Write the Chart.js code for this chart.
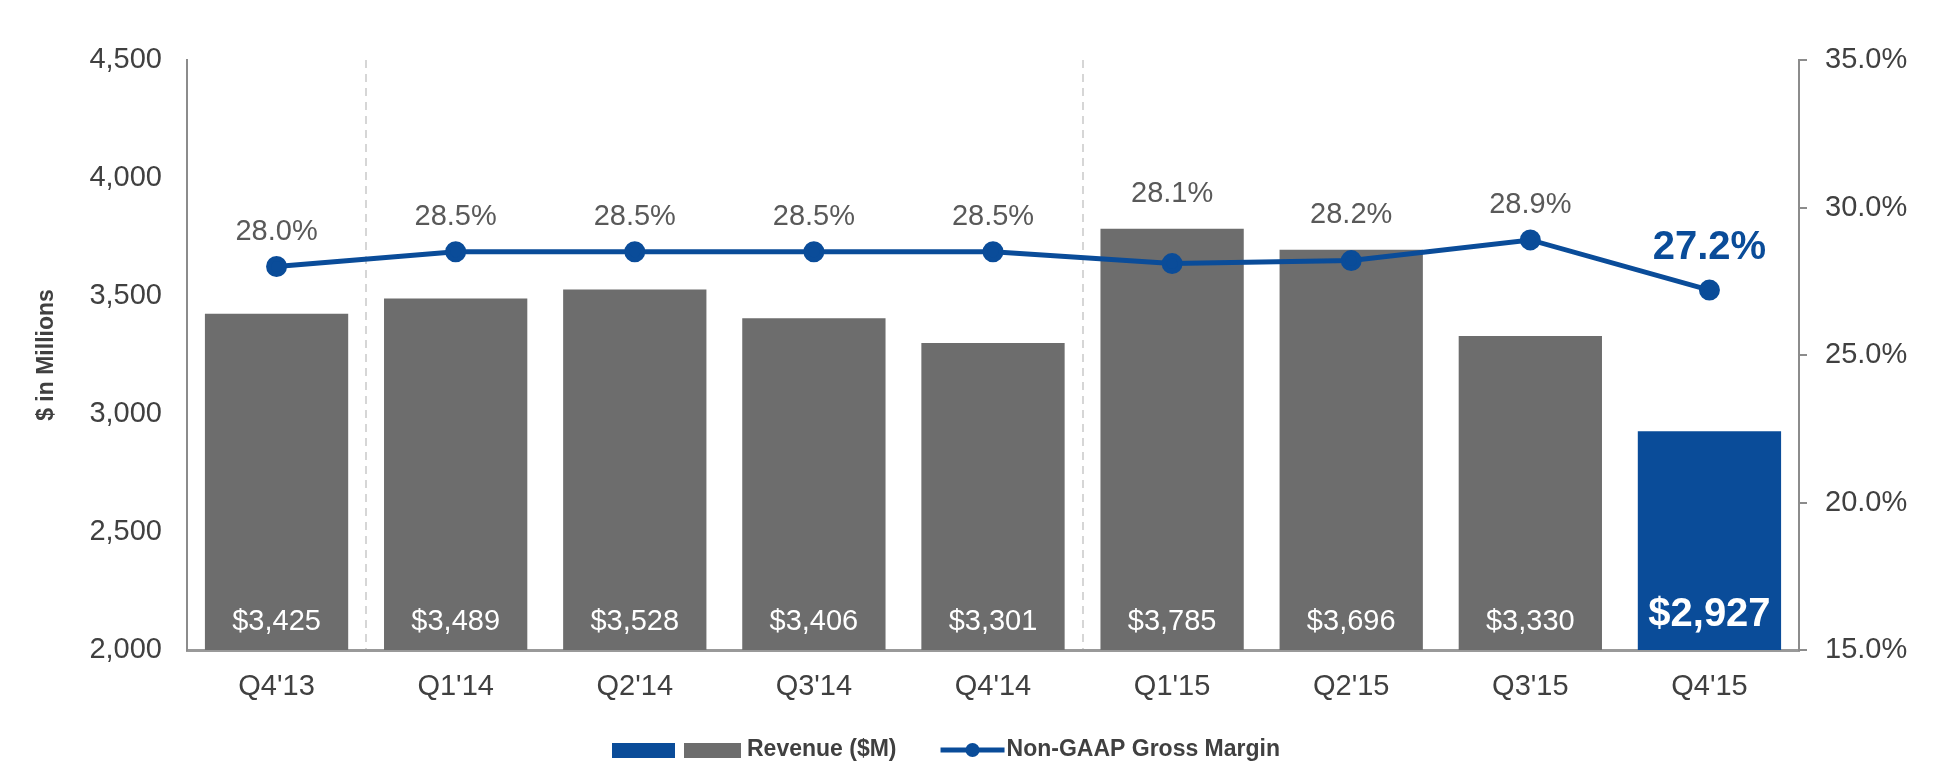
<!DOCTYPE html>
<html>
<head>
<meta charset="utf-8">
<script src="https://cdn.jsdelivr.net/npm/chart.js@4.4.1/dist/chart.umd.min.js"></script>
<style>
  html, body { margin: 0; padding: 0; background: #fff; }
  #wrap { width: 1934px; height: 774px; position: relative; }
</style>
</head>
<body>
<div id="wrap"><canvas id="revenueChart"></canvas></div>
<script>
// datos
const quarters = ["Q4'13", "Q1'14", "Q2'14", "Q3'14", "Q4'14", "Q1'15", "Q2'15", "Q3'15", "Q4'15"];
const revenue = [3425, 3489, 3528, 3406, 3301, 3785, 3696, 3330, 2927];
const grossMargin = [28.0, 28.5, 28.5, 28.5, 28.5, 28.1, 28.2, 28.9, 27.2];
const revenueTicks = [2000, 2500, 3000, 3500, 4000, 4500];
const marginTicks = [15, 20, 25, 30, 35];
const yearBreaks = [1, 5]; // dashed separators before Q1'14 and Q1'15

const FONT = '"Liberation Sans", Arial, Helvetica, sans-serif';
const GRAY = '#6d6d6d';
const BLUE = '#0a4c99';
const TEXT = '#404040';
const last = revenue.length - 1;

// value labels on bars and line points
const valueLabels = {
  id: 'valueLabels',
  afterDatasetsDraw(chart) {
    const ctx = chart.ctx;
    const bars = chart.getDatasetMeta(1).data;
    const points = chart.getDatasetMeta(0).data;
    const bottom = chart.chartArea.bottom;
    ctx.save();
    ctx.textAlign = 'center';
    ctx.textBaseline = 'middle';
    bars.forEach((bar, i) => {
      ctx.fillStyle = '#ffffff';
      ctx.font = i === last ? 'bold 40px ' + FONT : '29px ' + FONT;
      ctx.fillText('$' + revenue[i].toLocaleString('en-US'), bar.x, bottom - (i === last ? 35 : 28));
    });
    points.forEach((pt, i) => {
      // keep the label clear of the bar top when the bar is taller than the point
      const top = Math.min(pt.y, bars[i].y);
      ctx.fillStyle = i === last ? BLUE : '#595959';
      ctx.font = i === last ? 'bold 40px ' + FONT : '29px ' + FONT;
      ctx.fillText(grossMargin[i].toFixed(1) + '%', pt.x, top - (i === last ? 42 : 35));
    });
    ctx.restore();
  }
};

// legend like the original (two boxes for revenue, line with dot)
const customLegend = {
  id: 'customLegend',
  afterDraw(chart) {
    const ctx = chart.ctx;
    const y = 750;
    ctx.save();
    ctx.font = 'bold 23px ' + FONT;
    ctx.textBaseline = 'middle';
    ctx.textAlign = 'left';
    let x = 612;
    ctx.fillStyle = BLUE;
    ctx.fillRect(x, y - 7, 63, 15);
    x += 72;
    ctx.fillStyle = GRAY;
    ctx.fillRect(x, y - 7, 57, 15);
    x += 63;
    ctx.fillStyle = TEXT;
    ctx.fillText('Revenue ($M)', x, y);
    x += ctx.measureText('Revenue ($M)').width + 44;
    ctx.strokeStyle = BLUE;
    ctx.lineWidth = 5;
    ctx.beginPath();
    ctx.moveTo(x, y);
    ctx.lineTo(x + 64, y);
    ctx.stroke();
    ctx.fillStyle = BLUE;
    ctx.beginPath();
    ctx.arc(x + 32, y, 7, 0, Math.PI * 2);
    ctx.fill();
    x += 66;
    ctx.fillStyle = TEXT;
    ctx.fillText('Non-GAAP Gross Margin', x, y);
    ctx.restore();
  }
};

const ctx = document.getElementById('revenueChart').getContext('2d');
new Chart(ctx, {
  data: {
    labels: quarters,
    datasets: [{
      type: 'line',
      label: 'Non-GAAP Gross Margin',
      data: grossMargin,
      yAxisID: 'y1',
      borderColor: BLUE,
      backgroundColor: BLUE,
      borderWidth: 5,
      pointRadius: 8,
      pointHoverRadius: 8,
      tension: 0,
      order: 0
    }, {
      type: 'bar',
      label: 'Revenue ($M)',
      data: revenue,
      yAxisID: 'y',
      backgroundColor: revenue.map((v, i) => i === last ? BLUE : GRAY),
      barPercentage: 0.8,
      categoryPercentage: 1.0,
      order: 1
    }]
  },
  options: {
    responsive: true,
    maintainAspectRatio: false,
    animation: false,
    layout: { padding: { top: 60, left: 0, right: 0, bottom: 50 } },
    plugins: {
      legend: { display: false },
      tooltip: { enabled: false }
    },
    scales: {
      x: {
        grid: {
          offset: true,
          drawTicks: false,
          lineWidth: 2,
          color: c => yearBreaks.includes(c.index) ? '#d6d6d6' : 'transparent'
        },
        border: { display: true, color: '#999999', width: 3, dash: [8, 6] },
        ticks: { color: TEXT, font: { family: FONT, size: 29 }, padding: 20 },
        afterFit: s => { s.height = 74; }
      },
      y: {
        position: 'left',
        min: revenueTicks[0],
        max: revenueTicks[revenueTicks.length - 1],
        afterBuildTicks: s => { s.ticks = revenueTicks.map(v => ({ value: v })); },
        grid: { display: false, drawTicks: false },
        border: { display: true, color: '#8c8c8c', width: 2 },
        ticks: {
          color: TEXT,
          font: { family: FONT, size: 29 },
          padding: 25,
          callback: v => v.toLocaleString('en-US')
        },
        title: {
          display: true,
          text: '$ in Millions',
          color: TEXT,
          font: { family: FONT, size: 23, weight: 'bold' },
          padding: { top: 33, bottom: 0 }
        },
        afterFit: s => { s.width = 187; }
      },
      y1: {
        position: 'right',
        min: marginTicks[0],
        max: marginTicks[marginTicks.length - 1],
        afterBuildTicks: s => { s.ticks = marginTicks.map(v => ({ value: v })); },
        grid: { drawOnChartArea: false, drawTicks: true, tickLength: 8, color: '#8c8c8c', lineWidth: 2 },
        border: { display: true, color: '#8c8c8c', width: 2 },
        ticks: {
          color: TEXT,
          font: { family: FONT, size: 29 },
          padding: 18,
          callback: v => v.toFixed(1) + '%'
        },
        afterFit: s => { s.width = 135; }
      }
    }
  },
  plugins: [valueLabels, customLegend]
});
</script>
</body>
</html>
